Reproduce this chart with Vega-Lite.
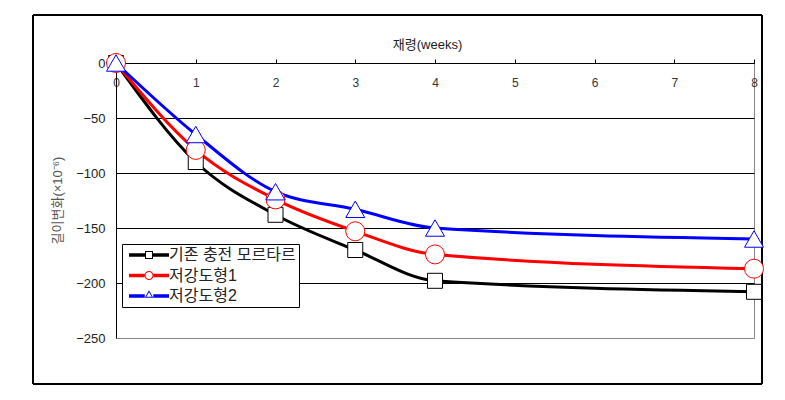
{
  "$schema": "https://vega.github.io/schema/vega-lite/v6.json",
  "width": 638,
  "height": 275,
  "autosize": "none",
  "padding": {"left": 116, "top": 63, "right": 31, "bottom": 62},
  "background": "white",
  "config": {
    "view": {"stroke": "#888888", "strokeWidth": 1},
    "font": "Liberation Sans, Noto Sans CJK KR",
    "axisX": {
      "orient": "top", "format": "d",
      "grid": false, "tickSize": 4, "tickColor": "#000000", "domainColor": "#000000",
      "labelPadding": -23, "labelBaseline": "middle", "labelFontSize": 12, "labelColor": "#333333",
      "labelFlush": false, "labelOverlap": false, "labelBound": false,
      "titleFontSize": 13, "titleFontWeight": "normal", "titleColor": "#222222",
      "titleX": 311, "titleY": -19, "titleBaseline": "middle", "titleAlign": "center"
    },
    "axisY": {
      "grid": true,
      "ticks": false, "domainColor": "#000000", "labelPadding": 11,
      "labelFontSize": 13, "labelColor": "#222222", "labelFlush": false, "labelOverlap": false,
      "titleFontSize": 13, "titleFontWeight": "normal", "titleColor": "#555555",
      "titleX": -59, "titleY": 137, "titleAngle": -90, "titleAlign": "center", "titleBaseline": "middle"
    }
  },
  "data": {
    "values": [
      {"week": 0, "value": 0, "series": "기존 충전 모르타르"},
      {"week": 1, "value": -90, "series": "기존 충전 모르타르"},
      {"week": 2, "value": -138, "series": "기존 충전 모르타르"},
      {"week": 3, "value": -170, "series": "기존 충전 모르타르"},
      {"week": 4, "value": -198, "series": "기존 충전 모르타르"},
      {"week": 8, "value": -208, "series": "기존 충전 모르타르"},
      {"week": 0, "value": 0, "series": "저강도형1"},
      {"week": 1, "value": -79, "series": "저강도형1"},
      {"week": 2, "value": -124, "series": "저강도형1"},
      {"week": 3, "value": -153, "series": "저강도형1"},
      {"week": 4, "value": -174, "series": "저강도형1"},
      {"week": 8, "value": -187, "series": "저강도형1"},
      {"week": 0, "value": 0, "series": "저강도형2"},
      {"week": 1, "value": -65, "series": "저강도형2"},
      {"week": 2, "value": -117, "series": "저강도형2"},
      {"week": 3, "value": -133, "series": "저강도형2"},
      {"week": 4, "value": -150, "series": "저강도형2"},
      {"week": 8, "value": -160, "series": "저강도형2"}
    ]
  },
  "layer": [
    {
      "mark": {"type": "rect", "filled": false, "stroke": "#000000", "strokeWidth": 1},
      "encoding": {
        "x": {"datum": -1.04, "type": "quantitative", "title": "재령(weeks)", "axis": {"values": [0, 1, 2, 3, 4, 5, 6, 7, 8]}},
        "x2": {"datum": 8.1},
        "y": {"datum": 43.6, "type": "quantitative", "title": "길이변화(×10⁻⁶)", "axis": {"values": [0, -50, -100, -150, -200, -250]}},
        "y2": {"datum": -291.8}
      }
    },
    {
      "mark": {"type": "line", "interpolate": "monotone", "strokeWidth": 3},
      "encoding": {
        "x": {
          "field": "week", "type": "quantitative", "title": "재령(weeks)",
          "scale": {"domain": [0, 8], "nice": false, "zero": false},
          "axis": {"values": [0, 1, 2, 3, 4, 5, 6, 7, 8]}
        },
        "y": {
          "field": "value", "type": "quantitative", "title": "길이변화(×10⁻⁶)",
          "scale": {"domain": [-250, 0], "nice": false, "zero": false},
          "axis": {
            "values": [0, -50, -100, -150, -200, -250],
            "gridColor": {"condition": {"test": "datum.value === -250", "value": "#888888"}, "value": "#000000"}
          }
        },
        "color": {
          "field": "series", "type": "nominal",
          "scale": {"domain": ["기존 충전 모르타르", "저강도형1", "저강도형2"], "range": ["#000000", "#ff0000", "#0000ff"]},
          "legend": {
            "orient": "none", "legendX": 6, "legendY": 181, "title": null,
            "symbolSize": 100, "symbolOffset": 16,
            "labelFontSize": 16, "labelColor": "#222222", "labelOffset": 12,
            "strokeColor": "#000000", "fillColor": "white", "padding": 3, "rowPadding": 4.5,
            "encode": {
              "symbols": {
                "update": {
                  "fill": {"scale": "color", "field": "value"},
                  "stroke": {"value": "transparent"},
                  "strokeWidth": {"value": 0},
                  "opacity": {"value": 1},
                  "shape": {"signal": "datum.value === '기존 충전 모르타르' ? 'M-4,-0.35H-0.8V0.35H-4Z M0.8,-0.35H4V0.35H0.8Z M-0.8,-0.8H0.8V0.8H-0.8Z M-0.6,-0.6V0.6H0.6V-0.6Z' : datum.value === '저강도형1' ? 'M-4,-0.35H-0.9V0.35H-4Z M0.9,-0.35H4V0.35H0.9Z M-0.9,0A0.9,0.9,0,1,1,0.9,0A0.9,0.9,0,1,1,-0.9,0Z M-0.7,0A0.7,0.7,0,1,0,0.7,0A0.7,0.7,0,1,0,-0.7,0Z' : 'M-4,-0.35H-0.85V0.35H-4Z M0.85,-0.35H4V0.35H0.85Z M0,-1.15L0.85,0.35H-0.85Z M0,-0.75L-0.55,0.15H0.55Z'"}
                }
              }
            }
          }
        }
      }
    },
    {
      "transform": [{"filter": "datum.series === '기존 충전 모르타르'"}],
      "mark": {"type": "point", "shape": "square", "size": 225, "filled": true, "fill": "white", "stroke": "#000000", "strokeWidth": 1, "opacity": 1},
      "encoding": {
        "x": {"field": "week", "type": "quantitative", "title": "재령(weeks)", "axis": {"values": [0, 1, 2, 3, 4, 5, 6, 7, 8]}},
        "y": {"field": "value", "type": "quantitative", "title": "길이변화(×10⁻⁶)", "axis": {"values": [0, -50, -100, -150, -200, -250]}}
      }
    },
    {
      "transform": [{"filter": "datum.series === '저강도형1'"}],
      "mark": {"type": "point", "shape": "circle", "size": 361, "filled": true, "fill": "white", "stroke": "#ff0000", "strokeWidth": 1, "opacity": 1},
      "encoding": {
        "x": {"field": "week", "type": "quantitative", "title": "재령(weeks)", "axis": {"values": [0, 1, 2, 3, 4, 5, 6, 7, 8]}},
        "y": {"field": "value", "type": "quantitative", "title": "길이변화(×10⁻⁶)", "axis": {"values": [0, -50, -100, -150, -200, -250]}}
      }
    },
    {
      "transform": [{"filter": "datum.series === '저강도형2'"}],
      "mark": {"type": "point", "shape": "triangle-up", "size": 361, "filled": true, "fill": "white", "stroke": "#0000ff", "strokeWidth": 1, "opacity": 1},
      "encoding": {
        "x": {"field": "week", "type": "quantitative", "title": "재령(weeks)", "axis": {"values": [0, 1, 2, 3, 4, 5, 6, 7, 8]}},
        "y": {"field": "value", "type": "quantitative", "title": "길이변화(×10⁻⁶)", "axis": {"values": [0, -50, -100, -150, -200, -250]}}
      }
    }
  ]
}
